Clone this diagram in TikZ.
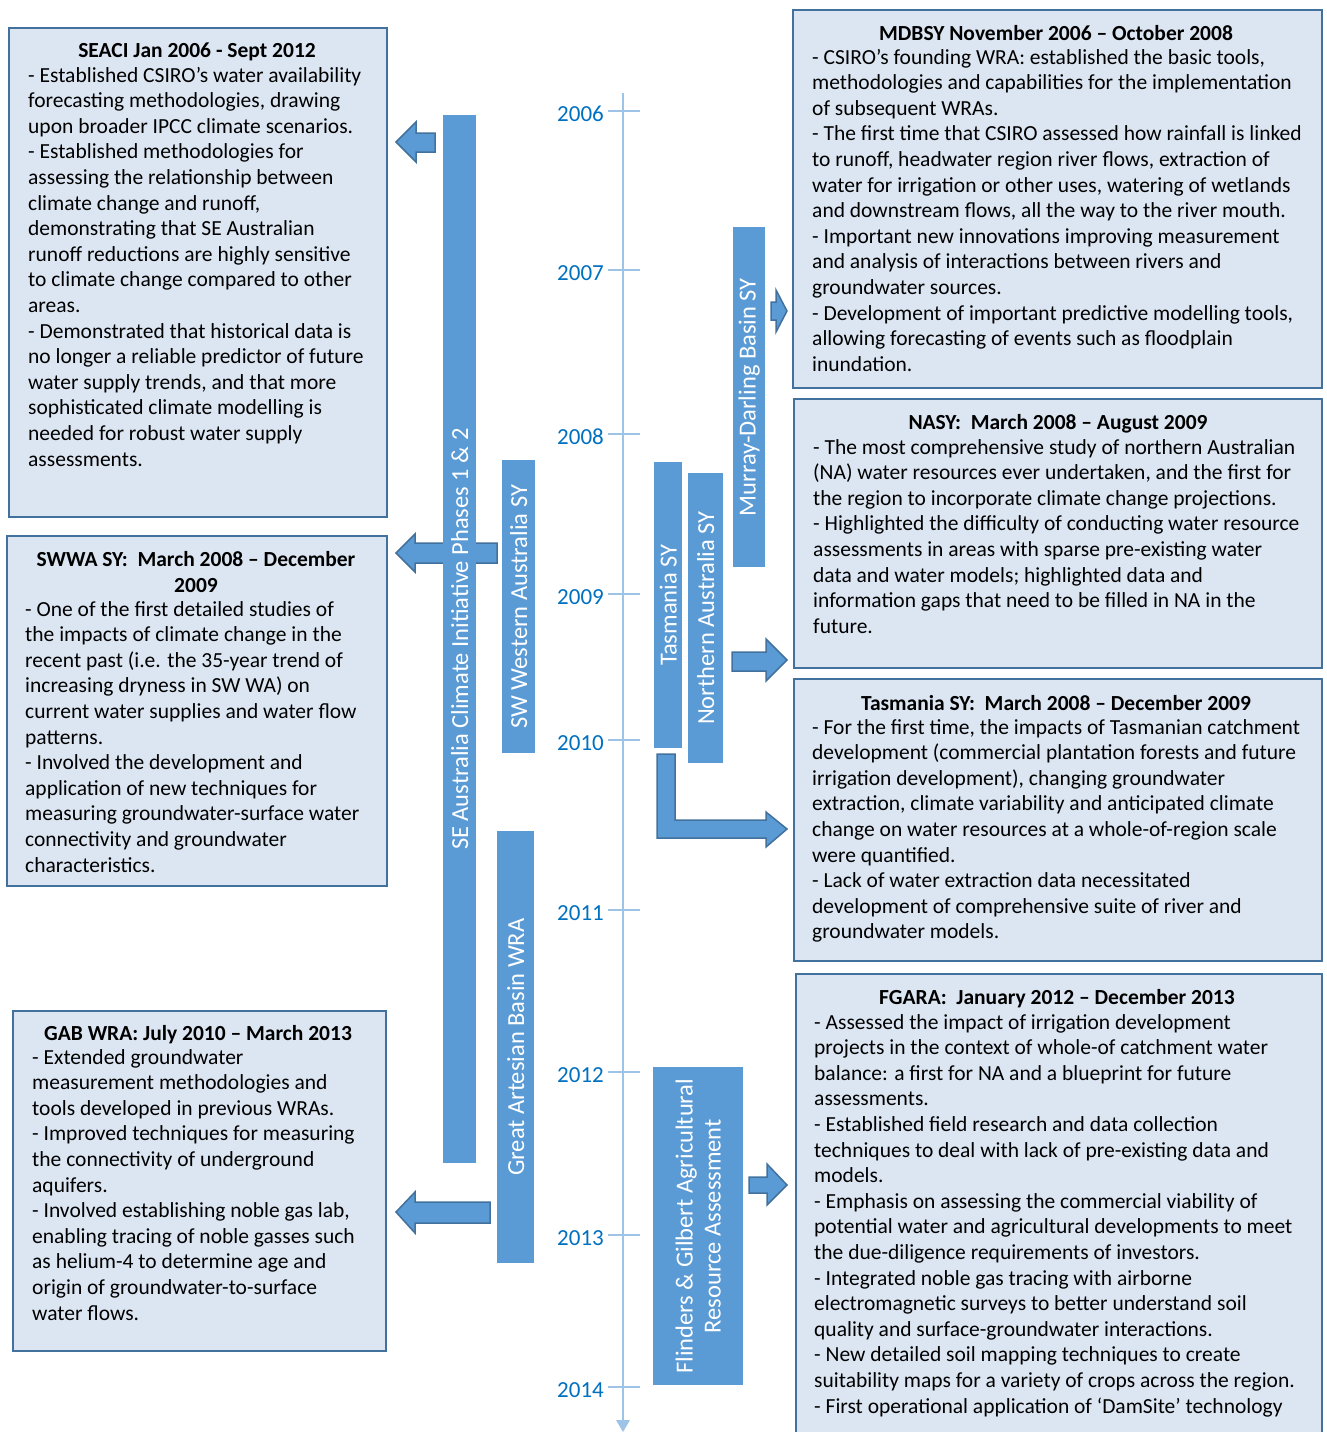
\documentclass[tikz,border=0pt]{standalone}
\usepackage{fontspec}
\setmainfont{Carlito}
\begin{document}
\begin{tikzpicture}[x=1pt,y=-1pt,
  box/.style={draw=boxline, fill=boxfill, line width=2pt, anchor=north west, inner sep=0pt},
  txt/.style={anchor=north west, inner sep=0pt, align=left, text=black, font=\fontsize{21.5}{25.6}\selectfont},
  ttl/.style={anchor=base, inner sep=0pt, text=black, font=\fontsize{21.5}{25.6}\selectfont\bfseries},
  bar/.style={fill=barblue, draw=none, anchor=north west, inner sep=0pt},
  bartxt/.style={rotate=90, text=white, inner sep=0pt, align=center, font=\fontsize{24.5}{28}\selectfont},
  barrow/.style={fill=barblue, draw=arrline, line width=1.5pt, line join=miter},
  tl/.style={draw=tlblue, line width=2pt},
  yr/.style={anchor=east, text=yrblue, inner sep=0pt, font=\fontsize{23}{26}\selectfont}
]
\definecolor{boxfill}{HTML}{DCE6F2}
\definecolor{boxline}{HTML}{41719C}
\definecolor{barblue}{HTML}{5B9BD5}
\definecolor{arrline}{HTML}{41719C}
\definecolor{tlblue}{HTML}{9DC3E6}
\definecolor{yrblue}{HTML}{0070C0}
\useasboundingbox (0,0) rectangle (1326,1432);

% timeline
\coordinate (tltop) at (623,93);
\coordinate (tlend) at (623,1421);
\draw[tl] (tltop) -- (tlend);
\fill[tlblue] (616,1420) -- (630,1420) -- (623,1432) -- cycle;
\foreach \y/\lab/\n in {111/2006/a,270/2007/b,434/2008/c,594/2009/d,740/2010/e,910/2011/f,1072/2012/g,1235/2013/h,1387/2014/i}{
  \draw[tl] (608,\y) -- (640,\y);
  \node[yr] (yr\n) at (604,\y+3) {\lab};
}

% left boxes
\node[box, minimum width=378pt, minimum height=489pt] (seaci) at (8,27) {};
\node[ttl] (seacit) at (197,57) {SEACI Jan 2006 - Sept 2012};
\node[txt] (seacib) at (28,64) {\strut- Established CSIRO’s water availability\\
forecasting methodologies, drawing\\
upon broader IPCC climate scenarios.\\
- Established methodologies for\\
assessing the relationship between\\
climate change and runoff,\\
demonstrating that SE Australian\\
runoff reductions are highly sensitive\\
to climate change compared to other\\
areas.\\
- Demonstrated that historical data is\\
no longer a reliable predictor of future\\
water supply trends, and that more\\
sophisticated climate modelling is\\
needed for robust water supply\\
assessments.};

\node[box, minimum width=380pt, minimum height=350pt] (swwa) at (6,535) {};
\node[ttl] (swwat1) at (196,566) {SWWA SY:\ \ March 2008 – December};
\node[ttl] (swwat2) at (196,592) {2009};
\node[txt] (swwab) at (25,598) {\strut- One of the first detailed studies of\\
the impacts of climate change in the\\
recent past (i.e. the 35-year trend of\\
increasing dryness in SW WA) on\\
current water supplies and water flow\\
patterns.\\
- Involved the development and\\
application of new techniques for\\
measuring groundwater-surface water\\
connectivity and groundwater\\
characteristics.};

\node[box, minimum width=373pt, minimum height=340pt] (gab) at (12,1010) {};
\node[ttl] (gabt) at (198,1040) {GAB WRA: July 2010 – March 2013};
\node[txt] (gabb) at (32,1046) {\strut- Extended groundwater\\
measurement methodologies and\\
tools developed in previous WRAs.\\
- Improved techniques for measuring\\
the connectivity of underground\\
aquifers.\\
- Involved establishing noble gas lab,\\
enabling tracing of noble gasses such\\
as helium-4 to determine age and\\
origin of groundwater-to-surface\\
water flows.};

% right boxes
\node[box, minimum width=529pt, minimum height=378pt] (mdb) at (792,9) {};
\node[ttl] (mdbt) at (1056,40) {MDBSY November 2006 – October 2008};
\node[txt] (mdbb) at (812,46) {\strut- CSIRO’s founding WRA: established the basic tools,\\
methodologies and capabilities for the implementation\\
of subsequent WRAs.\\
- The first time that CSIRO assessed how rainfall is linked\\
to runoff, headwater region river flows, extraction of\\
water for irrigation or other uses, watering of wetlands\\
and downstream flows, all the way to the river mouth.\\
- Important new innovations improving measurement\\
and analysis of interactions between rivers and\\
groundwater sources.\\
- Development of important predictive modelling tools,\\
allowing forecasting of events such as floodplain\\
inundation.};

\node[box, minimum width=528pt, minimum height=269pt] (nasy) at (793,398) {};
\node[ttl] (nasyt) at (1058,429) {NASY:\ \ March 2008 – August 2009};
\node[txt] (nasyb) at (813,436) {\strut- The most comprehensive study of northern Australian\\
(NA) water resources ever undertaken, and the first for\\
the region to incorporate climate change projections.\\
- Highlighted the difficulty of conducting water resource\\
assessments in areas with sparse pre-existing water\\
data and water models; highlighted data and\\
information gaps that need to be filled in NA in the\\
future.};

\node[box, minimum width=528pt, minimum height=282pt] (tas) at (793,678) {};
\node[ttl] (tast) at (1056,710) {Tasmania SY:\ \ March 2008 – December 2009};
\node[txt] (tasb) at (812,716) {\strut- For the first time, the impacts of Tasmanian catchment\\
development (commercial plantation forests and future\\
irrigation development), changing groundwater\\
extraction, climate variability and anticipated climate\\
change on water resources at a whole-of-region scale\\
were quantified.\\
- Lack of water extraction data necessitated\\
development of comprehensive suite of river and\\
groundwater models.};

\node[box, minimum width=526pt, minimum height=470pt] (fga) at (795,973) {};
\node[ttl] (fgat) at (1057,1004) {FGARA:\ \ January 2012 – December 2013};
\node[txt] (fgab) at (814,1011) {\strut- Assessed the impact of irrigation development\\
projects in the context of whole-of catchment water\\
balance: a first for NA and a blueprint for future\\
assessments.\\
- Established field research and data collection\\
techniques to deal with lack of pre-existing data and\\
models.\\
- Emphasis on assessing the commercial viability of\\
potential water and agricultural developments to meet\\
the due-diligence requirements of investors.\\
- Integrated noble gas tracing with airborne\\
electromagnetic surveys to better understand soil\\
quality and surface-groundwater interactions.\\
- New detailed soil mapping techniques to create\\
suitability maps for a variety of crops across the region.\\
- First operational application of ‘DamSite’ technology};

% block arrows (behind bars)
\draw[barrow] (435,133) -- (416,133) -- (416,122) -- (396,142) -- (416,162) -- (416,152) -- (435,152) -- cycle;
\draw[barrow] (497,543) -- (415,543) -- (415,534) -- (396,553) -- (415,572) -- (415,563) -- (497,563) -- cycle;
\draw[barrow] (490,1202) -- (415,1202) -- (415,1192) -- (396,1212) -- (415,1233) -- (415,1223) -- (490,1223) -- cycle;
\draw[barrow] (771,302) -- (776,302) -- (776,290) -- (787,311) -- (776,332) -- (776,320) -- (771,320) -- cycle;
\draw[barrow] (732,652) -- (766,652) -- (766,639) -- (787,660) -- (766,681) -- (766,671) -- (732,671) -- cycle;
\draw[barrow] (657,754) -- (675,754) -- (675,820) -- (766,820) -- (766,812) -- (787,829) -- (766,847) -- (766,838) -- (657,838) -- cycle;
\draw[barrow] (749,1177) -- (767,1177) -- (767,1164) -- (787,1185) -- (767,1205) -- (767,1193) -- (749,1193) -- cycle;

% bars
\node[bar, minimum width=33pt, minimum height=1048pt] (seb) at (443,115) {};
\node[bartxt] at (seb.center) {SE Australia Climate Initiative Phases 1 \& 2};
\node[bar, minimum width=33pt, minimum height=293pt] (swb) at (502,460) {};
\node[bartxt] at (swb.center) {SW Western Australia SY};
\node[bar, minimum width=37pt, minimum height=432pt] (gabbar) at (497,831) {};
\node[bartxt] at (gabbar.center) {Great Artesian Basin WRA};
\node[bar, minimum width=32pt, minimum height=340pt] (mdbbar) at (733,227) {};
\node[bartxt] at (mdbbar.center) {Murray-Darling Basin SY};
\node[bar, minimum width=28pt, minimum height=286pt] (tasbar) at (654,462) {};
\node[bartxt] at (tasbar.center) {Tasmania SY};
\node[bar, minimum width=35pt, minimum height=290pt] (nabar) at (688,473) {};
\node[bartxt] at (nabar.center) {Northern Australia SY};
\node[bar, minimum width=90pt, minimum height=318pt] (fgbar) at (653,1067) {};
\node[bartxt] at (fgbar.center) {Flinders \& Gilbert Agricultural\\Resource Assessment};
\end{tikzpicture}
\end{document}
